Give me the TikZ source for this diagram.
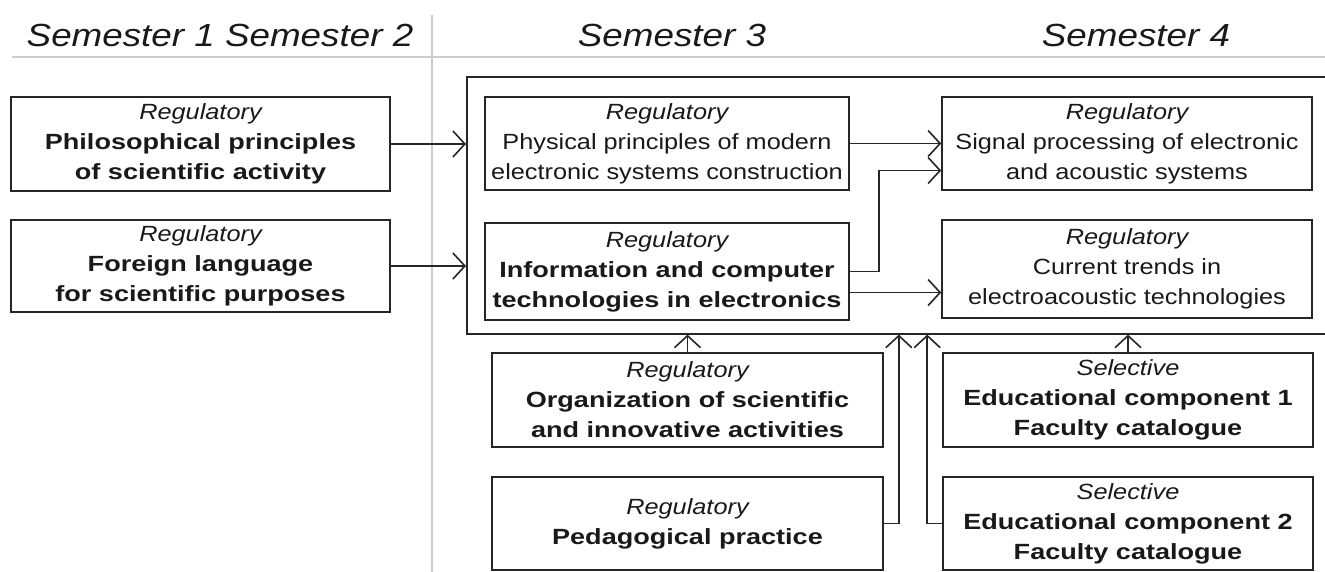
\documentclass[tikz,border=0pt]{standalone}
\usepackage{fontspec}
\setmainfont{Liberation Sans}[FakeStretch=1.15]
\newfontfamily\boldwide{Liberation Sans}[FakeStretch=1.23]
\usetikzlibrary{arrows.meta}

\newcommand{\kindof}[1]{{\rmfamily\mdseries\itshape #1}}

\begin{document}
\begin{tikzpicture}[x=1pt,y=-1pt,
  box/.style={draw=black!85, line width=1.6pt, minimum width=370pt, minimum height=94pt,
    inner sep=0pt, align=center, text=black!90, font=\fontsize{22}{30}\selectfont},
  boldbox/.style={box, font=\fontsize{22}{30}\selectfont\boldwide\bfseries},
  arr/.style={draw=black!85, line width=1.6pt, -{Straight Barb[length=12pt,width=26pt]}},
  divider/.style={draw=black!20, line width=2.4pt},
  head/.style={anchor=base, text=black!90, font=\fontsize{32}{36}\selectfont\itshape}]
\useasboundingbox (0,0) rectangle (1325,572);
\clip (0,0) rectangle (1325,572);

\draw[divider] (12,57) -- (1325,57);
\draw[divider] (432,15) -- (432,572);

\node[head] (s12) at (220,47) {Semester 1 Semester 2};
\node[head] (s3) at (672,47) {Semester 3};
\node[head] (s4) at (1136,47) {Semester 4};

\node[draw=black!85, line width=1.6pt, minimum width=900pt, minimum height=257pt,
  inner sep=0pt, anchor=north west] (sem) at (466,76) {};

\node[boldbox, minimum width=379pt] (phil) at (200.5,144)
  {\kindof{Regulatory}\\Philosophical principles\\of scientific activity};
\node[boldbox, minimum width=379pt, minimum height=92pt] (foreign) at (200.5,266)
  {\kindof{Regulatory}\\Foreign language\\for scientific purposes};

\node[box, minimum width=364pt, minimum height=93pt] (phys) at (667,143.5)
  {\kindof{Regulatory}\\Physical principles of modern\\electronic systems construction};
\node[boldbox, minimum width=364pt, minimum height=97pt] (info) at (667,271.5)
  {\kindof{Regulatory}\\Information and computer\\technologies in electronics};

\node[box, minimum height=93pt] (signal) at (1127,143.5)
  {\kindof{Regulatory}\\Signal processing of electronic\\and acoustic systems};
\node[box, minimum height=98pt] (trends) at (1127,269)
  {\kindof{Regulatory}\\Current trends in\\electroacoustic technologies};

\node[boldbox, minimum width=391pt] (org) at (687.5,400)
  {\kindof{Regulatory}\\Organization of scientific\\and innovative activities};
\node[boldbox, minimum width=391pt, minimum height=93pt] (ped) at (687.5,523.5)
  {\kindof{Regulatory}\\Pedagogical practice};

\node[boldbox] (sel1) at (1128,400)
  {\kindof{Selective}\\Educational component 1\\Faculty catalogue};
\node[boldbox, minimum height=93pt] (sel2) at (1128,523.5)
  {\kindof{Selective}\\Educational component 2\\Faculty catalogue};

\draw[arr] (phil.east) -- (phil.east -| sem.west);
\draw[arr] (foreign.east) -- (foreign.east -| sem.west);

\draw[arr] (phys.east) -- (phys.east -| signal.west);
\draw[arr] (info.east) -- ++(29,0) |- ([yshift=-27pt]signal.west);
\draw[arr] ([yshift=-21pt]info.east) -- ([yshift=-21pt]info.east -| trends.west);

\draw[arr] (org.north) -- (org.north |- sem.south);
\draw[arr] (ped.east) -- ++(15,0) coordinate (pedup) -- (pedup |- sem.south);
\draw[arr] (sel1.north) -- (sel1.north |- sem.south);
\draw[arr] (sel2.west) -- ++(-15,0) coordinate (selup) -- (selup |- sem.south);

\end{tikzpicture}
\end{document}
